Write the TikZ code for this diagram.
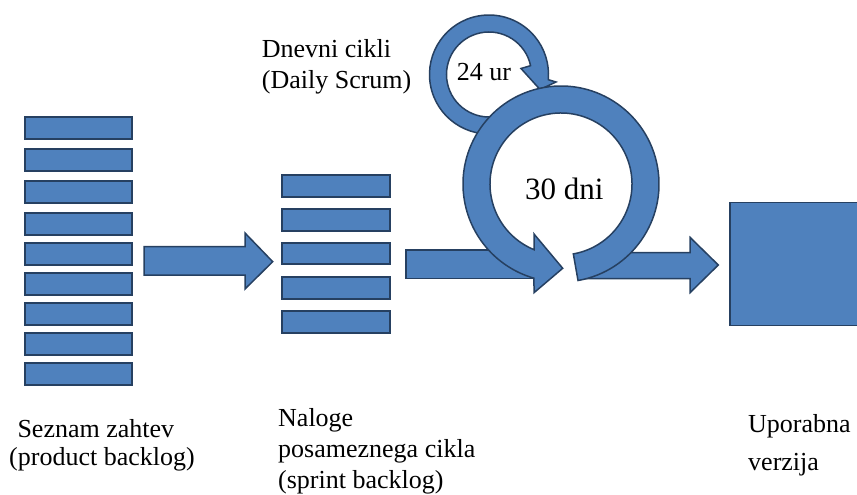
\documentclass[tikz,border=0pt]{standalone}
\usepackage{fontspec}
\setmainfont{Liberation Serif}
\usetikzlibrary{calc}
\definecolor{shapefill}{RGB}{79,129,189}
\definecolor{shapeedge}{RGB}{38,64,97}
\begin{document}
\begin{tikzpicture}[x=1pt,y=-1pt,
  block/.style={fill=shapefill,draw=shapeedge,line width=1.5pt,line join=miter},
  bar/.style={block,line width=2pt,rectangle,minimum width=107.5pt,minimum height=21.7pt,inner sep=0pt},
  sbar/.style={bar,minimum width=108.3pt},
  lbl/.style={anchor=base west,inner sep=0pt,font=\fontsize{26}{30}\selectfont},
  big/.style={anchor=base west,inner sep=0pt,font=\fontsize{31}{36}\selectfont}]
\useasboundingbox (0,0) rectangle (857,495);

% product backlog stack
\foreach \i/\y in {1/128,2/160,3/192,4/224,5/254,6/284,7/314,8/344,9/374}
  \node[bar] (pb\i) at (78.7,\y) {};
% sprint backlog stack
\foreach \i/\y in {1/185.8,2/220,3/253.6,4/287.8,5/321.8}
  \node[sbar] (sb\i) at (335.9,\y) {};

% arrow: product backlog -> sprint backlog
\coordinate (a1tail) at (144,261);
\draw[block] ($(a1tail)+(0,-14.3)$) -- ++(101,0) -- ++(0,-13.7) -- (272.7,261.7)
  -- (245,289) -- (245,275) -- ($(a1tail)+(0,14)$) -- cycle;

% daily cycle (small circular arrow)
\coordinate (smallc) at (489,74.5);
\draw[block] ($(smallc)+(80:59.5)$) arc[start angle=80,end angle=365,radius=59.5]
  -- (556,82) -- (540,89.5) -- (521,68.5)
  -- ($(smallc)+(-12:42.5)$) arc[start angle=348,end angle=80,radius=42.5] -- cycle;

% arrow: sprint backlog -> sprint
\draw[block] (406,250) rectangle (540,278.5);
% arrow: sprint -> release
\draw[block] (582,252.5) -- (690,252.5) -- (690,237.3) -- (718.3,265)
  -- (690,292.7) -- (690,278.5) -- (582,278.5) -- cycle;

% sprint (large circular arrow)
\coordinate (bigc) at (561,184);
\draw[block] ($(bigc)+(80:98)$) arc[start angle=80,end angle=-254,radius=98]
  -- (534,292.7) -- (562.7,268.3) -- (534,234)
  -- ($(bigc)+(-247.7:71)$) arc[start angle=-247.7,end angle=80,radius=71] -- cycle;

% usable release
\node[block,rectangle,minimum width=132pt,minimum height=123pt,inner sep=0pt]
  (release) at (796,264.2) {};

% texts
\node[lbl] (day1) at (261.7,57.3) {Dnevni cikli};
\node[lbl] (day2) at (261.7,88.3) {(Daily Scrum)};
\node[lbl] (hours) at (456.7,81) {24 ur};
\node[big] (days) at (525,199.3) {30 dni};

\node[lbl] (pbl1) at (17.3,437.3) {Seznam zahtev};
\node[lbl] (pbl2) at (9,465) {(product backlog)};
\node[lbl] (sbl1) at (278,426) {Naloge};
\node[lbl] (sbl2) at (278,457) {posameznega cikla};
\node[lbl] (sbl3) at (278,488) {(sprint backlog)};
\node[lbl] (rel1) at (748,432) {Uporabna};
\node[lbl] (rel2) at (748,470) {verzija};
\end{tikzpicture}
\end{document}
